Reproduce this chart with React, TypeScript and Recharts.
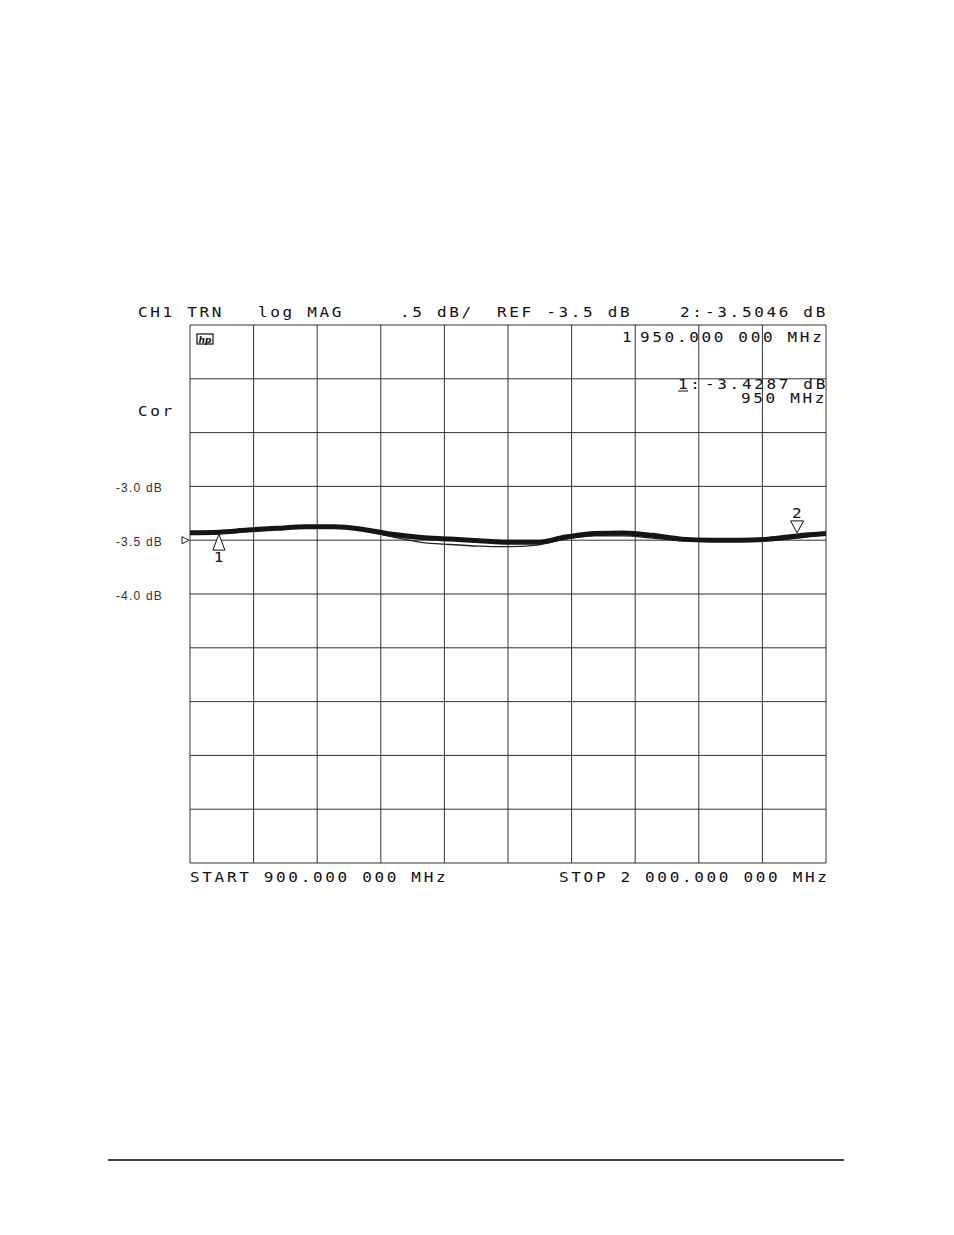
import React from "react";
import {
  LineChart,
  Line,
  XAxis,
  YAxis,
  CartesianGrid,
  ReferenceDot,
} from "recharts";

// frequency points in MHz
const freqs = [
  900, 950, 1000, 1050, 1100, 1150, 1200, 1250, 1300, 1350, 1400, 1450,
  1500, 1550, 1600, 1650, 1700, 1750, 1800, 1850, 1900, 1950, 2000,
];

// main (overlaid) trace, dB
const traceMain = [
  -3.43, -3.425, -3.405, -3.39, -3.375, -3.375, -3.4, -3.445, -3.475, -3.488,
  -3.505, -3.52, -3.52, -3.47, -3.437, -3.432, -3.455, -3.49, -3.5, -3.5,
  -3.49, -3.46, -3.438,
];

// thinner sweep that drifts slightly below
const traceAlt = [
  -3.435, -3.43, -3.41, -3.395, -3.38, -3.38, -3.41, -3.47, -3.52, -3.54,
  -3.555, -3.56, -3.545, -3.49, -3.46, -3.46, -3.48, -3.505, -3.51, -3.51,
  -3.505, -3.48, -3.445,
];

const xTicks = [900, 1010, 1120, 1230, 1340, 1450, 1560, 1670, 1780, 1890, 2000];
const yTicks = [-6.5, -6, -5.5, -5, -4.5, -4, -3.5, -3, -2.5, -2, -1.5];
const yLabelValues = [-3.0, -3.5, -4.0];

const marker1Freq = 950;
const marker2Freq = 1950;

const data = freqs.map((f, i) => ({ f, a: traceMain[i], b: traceAlt[i] }));
const valueAt = (f: number) => traceMain[freqs.indexOf(f)];

// plotter-like lettering: wide mono glyphs squashed a bit vertically, 12.3px cells
function PlotText({ x, y, children, anchor = "start" }: any) {
  return (
    <text
      transform={`translate(${x},${y}) scale(1,0.84)`}
      textAnchor={anchor}
      style={{
        fontFamily: "'DejaVu Sans Mono', monospace",
        fontSize: 16,
        letterSpacing: 2.67,
        fill: "#111",
      }}
    >
      {children}
    </text>
  );
}

function YTick(props: any) {
  const { x, y, payload } = props;
  const v = payload.value;
  const show = yLabelValues.some((t) => Math.abs(t - v) < 1e-6);
  return (
    <g>
      {show && (
        <text
          x={x - 27}
          y={y + 6}
          textAnchor="end"
          style={{
            fontFamily: "'Liberation Sans', Arial, sans-serif",
            fontSize: 12,
            letterSpacing: 1.2,
            fill: "#333",
          }}
        >
          {v.toFixed(1) + " dB"}
        </text>
      )}
      {Math.abs(v + 3.5) < 1e-6 && (
        <polygon
          points={`${x - 8},${y - 3.5} ${x - 8},${y + 3.5} ${x - 1},${y}`}
          fill="#fff"
          stroke="#222"
          strokeWidth={1}
        />
      )}
    </g>
  );
}

function MarkerUp(props: any) {
  const { cx, cy } = props;
  const top = cy + 2;
  return (
    <g>
      <polygon
        points={`${cx},${top} ${cx - 6},${top + 16} ${cx + 6},${top + 16}`}
        fill="#fff"
        stroke="#111"
        strokeWidth={1}
      />
      <PlotText x={cx + 1} y={top + 28} anchor="middle">1</PlotText>
    </g>
  );
}

function MarkerDown(props: any) {
  const { cx, cy } = props;
  const tip = cy - 3;
  return (
    <g>
      <polygon
        points={`${cx},${tip} ${cx - 6.5},${tip - 12} ${cx + 6.5},${tip - 12}`}
        fill="#fff"
        stroke="#111"
        strokeWidth={1}
      />
      <PlotText x={cx + 1} y={tip - 15} anchor="middle">2</PlotText>
    </g>
  );
}

export default function App() {
  return (
    <div
      style={{
        position: "absolute",
        left: 0,
        top: 0,
        width: 954,
        height: 1235,
        background: "#fff",
      }}
    >
      <LineChart
        width={954}
        height={1235}
        data={data}
        margin={{ top: 325, right: 128, bottom: 372, left: 110 }}
      >
        <CartesianGrid stroke="#333" strokeWidth={1} />
        <XAxis
          dataKey="f"
          type="number"
          domain={[900, 2000]}
          ticks={xTicks}
          hide
        />
        <YAxis
          type="number"
          domain={[-6.5, -1.5]}
          ticks={yTicks}
          width={80}
          axisLine={false}
          tickLine={false}
          tickSize={0}
          tickMargin={0}
          interval={0}
          tick={<YTick />}
        />
        <Line
          type="monotone"
          dataKey="b"
          stroke="#222"
          strokeWidth={1.3}
          dot={false}
          isAnimationActive={false}
        />
        <Line
          type="monotone"
          dataKey="a"
          stroke="#151515"
          strokeWidth={5}
          dot={false}
          isAnimationActive={false}
        />
        <ReferenceDot
          x={marker1Freq}
          y={valueAt(marker1Freq)}
          shape={(p: any) => <MarkerUp {...p} />}
        />
        <ReferenceDot
          x={marker2Freq}
          y={valueAt(marker2Freq)}
          shape={(p: any) => <MarkerDown {...p} />}
        />
      </LineChart>

      <svg
        width={954}
        height={1235}
        style={{ position: "absolute", left: 0, top: 0, pointerEvents: "none" }}
      >
        {/* header */}
        <PlotText x={138} y={317}>CH1 TRN</PlotText>
        <PlotText x={258} y={317}>log MAG</PlotText>
        <PlotText x={400} y={317}>.5 dB/</PlotText>
        <PlotText x={497} y={317}>REF -3.5 dB</PlotText>
        <PlotText x={680} y={317}>2:</PlotText>
        <PlotText x={705} y={317}>-3.5046 dB</PlotText>

        {/* marker readouts */}
        <PlotText x={622} y={342}>1</PlotText>
        <PlotText x={640} y={342}>950.000 000 MHz</PlotText>
        <PlotText x={678} y={389}>1:</PlotText>
        <line x1={678} y1={391} x2={688} y2={391} stroke="#111" strokeWidth={1} />
        <PlotText x={705} y={389}>-3.4287 dB</PlotText>
        <PlotText x={741} y={403}>950 MHz</PlotText>

        <PlotText x={138} y={416}>Cor</PlotText>

        {/* hp logo */}
        <rect x={197} y={334} width={16} height={10} fill="none" stroke="#111" strokeWidth={1.2} />
        <text
          x={205}
          y={342.5}
          textAnchor="middle"
          style={{ fontFamily: "'DejaVu Sans', sans-serif", fontSize: 9, fontStyle: "italic", fontWeight: 700, fill: "#111" }}
        >
          hp
        </text>

        {/* footer of the plot */}
        <PlotText x={190} y={882}>START 900.000 000 MHz</PlotText>
        <PlotText x={559} y={882}>STOP 2 000.000 000 MHz</PlotText>

        {/* page rule */}
        <line x1={108} y1={1160} x2={844} y2={1160} stroke="#000" strokeWidth={1.5} />
      </svg>
    </div>
  );
}
